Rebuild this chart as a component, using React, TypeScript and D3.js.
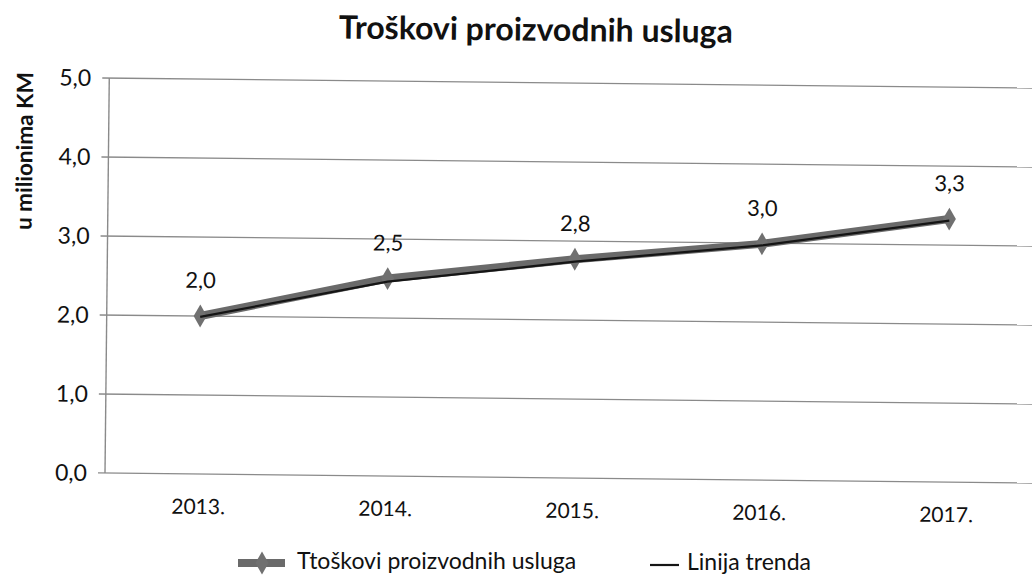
import React from "react";
import * as d3 from "d3";

const title = "Troškovi proizvodnih usluga";
const yAxisTitle = "u milionima KM";
const categories = ["2013.", "2014.", "2015.", "2016.", "2017."];
const values = [2.0, 2.5, 2.77, 2.99, 3.33];
const trendValues = [1.99, 2.46, 2.74, 2.97, 3.31];
const yTicks = [0, 1, 2, 3, 4, 5];
const seriesName = "Ttoškovi proizvodnih usluga";
const trendName = "Linija trenda";

const W = 1032;
const H = 576;
const FONT = "Lato, 'Open Sans', sans-serif";

export default function App() {
  const left = 105;
  const right = 1040;
  const top = 78;
  const bottom = 473;

  const x = d3.scaleBand<string>().domain(categories).range([left, right]);
  const cx = (c: string) => (x(c) as number) + x.bandwidth() / 2;
  const y = d3.scaleLinear().domain([0, 5]).range([bottom, top]);
  const fmt = (v: number) => d3.format(".1f")(v).replace(".", ",");

  const line = d3
    .line<number>()
    .x((_, i) => cx(categories[i]))
    .y((v) => y(v));

  const diamond = d3.symbol().type(d3.symbolDiamond).size(150)() as string;

  return (
    <svg width={W} height={H} style={{ display: "block", position: "absolute", left: 0, top: 0, background: "#fff" }}>
      <g transform={`rotate(0.62, ${left}, ${bottom})`}>
        <text x={531} y={36} textAnchor="middle" fontFamily={FONT} fontWeight="bold" fontSize={32} fill="#111">
          {title}
        </text>
        <text
          transform={`translate(29, 152) rotate(-90)`}
          textAnchor="middle"
          fontFamily={FONT}
          fontWeight="bold"
          fontSize={22.5}
          fill="#111"
        >
          {yAxisTitle}
        </text>
        {yTicks.map((t) => (
          <g key={t}>
            <line x1={left - 7} x2={right} y1={y(t)} y2={y(t)} stroke="#8a8a8a" strokeWidth={1.4} />
            <text x={87} y={y(t) + 8} textAnchor="end" fontFamily={FONT} fontSize={23} fill="#111">
              {fmt(t)}
            </text>
          </g>
        ))}
        <line x1={left} x2={left} y1={top} y2={bottom} stroke="#8a8a8a" strokeWidth={1.4} />
        {categories.map((c) => (
          <text key={c} x={cx(c)} y={bottom + 40} textAnchor="middle" fontFamily={FONT} fontSize={21} fill="#111">
            {c}
          </text>
        ))}
        <path d={line(values) as string} fill="none" stroke="#6a6a6a" strokeWidth={8} strokeLinejoin="round" />
        {values.map((v, i) => (
          <path key={i} d={diamond} transform={`translate(${cx(categories[i])},${y(v)})`} fill="#707070" />
        ))}
        <path d={line(trendValues) as string} fill="none" stroke="#151515" strokeWidth={2.2} />
        {values.map((v, i) => (
          <text
            key={i}
            x={cx(categories[i])}
            y={y(v) - 28}
            textAnchor="middle"
            fontFamily={FONT}
            fontSize={22}
            fill="#111"
          >
            {fmt(v)}
          </text>
        ))}
      </g>
      <g>
        <line x1={238} x2={285} y1={563} y2={563} stroke="#6a6a6a" strokeWidth={8} />
        <path d={diamond} transform="translate(262,563)" fill="#707070" />
        <text x={297} y={569} fontFamily={FONT} fontSize={23} fill="#111">
          {seriesName}
        </text>
        <line x1={650} x2={679} y1={565} y2={565} stroke="#151515" strokeWidth={2.2} />
        <text x={687} y={570} fontFamily={FONT} fontSize={23} fill="#111">
          {trendName}
        </text>
      </g>
    </svg>
  );
}
